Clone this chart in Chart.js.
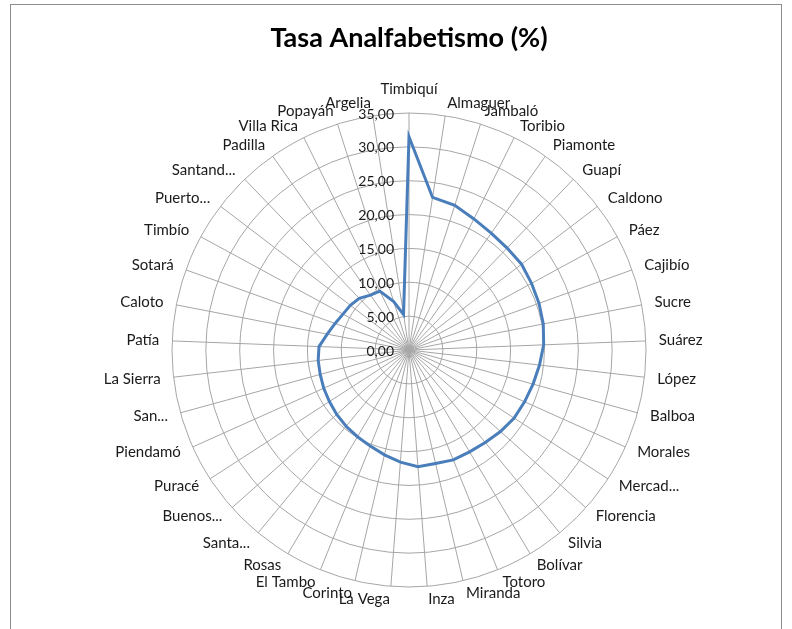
<!DOCTYPE html>
<html>
<head>
<meta charset="utf-8">
<script src="https://cdn.jsdelivr.net/npm/chart.js@4.4.1/dist/chart.umd.min.js"></script>
<style>
  html, body { margin: 0; padding: 0; background: #fff; }
  #wrap { position: relative; width: 792px; height: 629px; overflow: hidden; }
  #frame { position: absolute; left: 10px; top: 4px; width: 772px; height: 700px; border: 1px solid #8c8c8c; box-sizing: border-box; }
  canvas { position: absolute; left: 0; top: 0; }
</style>
</head>
<body>
<div id="wrap">
  <div id="frame"></div>
  <canvas id="c" width="792" height="629"></canvas>
</div>
<script>
const categories = ["Timbiquí","Almaguer","Jambaló","Toribio","Piamonte","Guapí","Caldono","Páez","Cajibío","Sucre","Suárez","López","Balboa","Morales","Mercad...","Florencia","Silvia","Bolívar","Totoro","Miranda","Inza","La Vega","Corinto","El Tambo","Rosas","Santa...","Buenos...","Puracé","Piendamó","San...","La Sierra","Patía","Caloto","Sotará","Timbío","Puerto...","Santand...","Padilla","Villa Rica","Popayán","Argelia"];
const tasaAnalfabetismo = [31.5,22.8,22.4,21.6,21.1,20.9,20.9,20.6,20.4,20.2,19.9,19.4,19.0,18.7,18.5,18.1,17.7,17.5,17.5,17.2,17.3,16.6,15.9,15.3,14.9,14.6,14.3,14.0,13.8,13.6,13.5,13.3,12.3,11.6,11.1,10.9,10.6,9.9,9.7,7.5,5.3];
const tickValues = [0,5,10,15,20,25,30,35];
const tickLabels = ["0,00","5,00","10,00","15,00","20,00","25,00","30,00","35,00"];

const FONT = "Lato, 'Open Sans', sans-serif";

const labelPlugin = {
  id: 'labelPlugin',
  afterDraw(chart) {
    const s = chart.scales.r;
    const ctx = chart.ctx;
    ctx.save();
    // radial tick labels, right-aligned beside the vertical axis
    ctx.font = "14px " + FONT;
    ctx.fillStyle = "#1a1a1a";
    ctx.textAlign = "right";
    ctx.textBaseline = "middle";
    tickValues.forEach((v, i) => {
      const y = s.yCenter - s.getDistanceFromCenterForValue(v);
      ctx.fillText(tickLabels[i], s.xCenter - 15, y + 1);
    });
    // category labels around the circle
    ctx.font = "15px " + FONT;
    const n = categories.length;
    categories.forEach((name, i) => {
      const p = s.getPointPosition(i, s.drawingArea + 13);
      const deg = (i * 360) / n;
      let y = p.y;
      if (deg === 0 || deg === 180) {
        ctx.textAlign = "center";
        if (deg === 0) y -= 11; else y += 11;
      } else if (deg < 180) {
        ctx.textAlign = "left";
      } else {
        ctx.textAlign = "right";
      }
      ctx.fillText(name, p.x, y);
    });
    ctx.restore();
  }
};

new Chart(document.getElementById('c'), {
  type: 'radar',
  data: {
    labels: categories,
    datasets: [{
      label: 'Tasa Analfabetismo (%)',
      data: tasaAnalfabetismo,
      borderColor: '#4a7ebb',
      borderWidth: 3,
      backgroundColor: 'rgba(0,0,0,0)',
      fill: false,
      pointRadius: 0,
      tension: 0
    }]
  },
  options: {
    responsive: false,
    animation: false,
    devicePixelRatio: 1,
    layout: { padding: { left: 172, right: 146, top: 0, bottom: 17 } },
    plugins: {
      legend: { display: false },
      tooltip: { enabled: false },
      title: {
        display: true,
        text: 'Tasa Analfabetismo (%)',
        color: '#000',
        font: { family: FONT, size: 27, weight: 'bold', lineHeight: 1.2 },
        padding: { top: 22, bottom: 33.6 }
      }
    },
    scales: {
      r: {
        min: 0,
        max: 35,
        ticks: { stepSize: 5, display: false },
        grid: { circular: true, color: '#a6a6a6', lineWidth: 1 },
        angleLines: { display: true, color: '#a6a6a6', lineWidth: 1 },
        pointLabels: { display: false }
      }
    }
  },
  plugins: [labelPlugin]
});
</script>
</body>
</html>
